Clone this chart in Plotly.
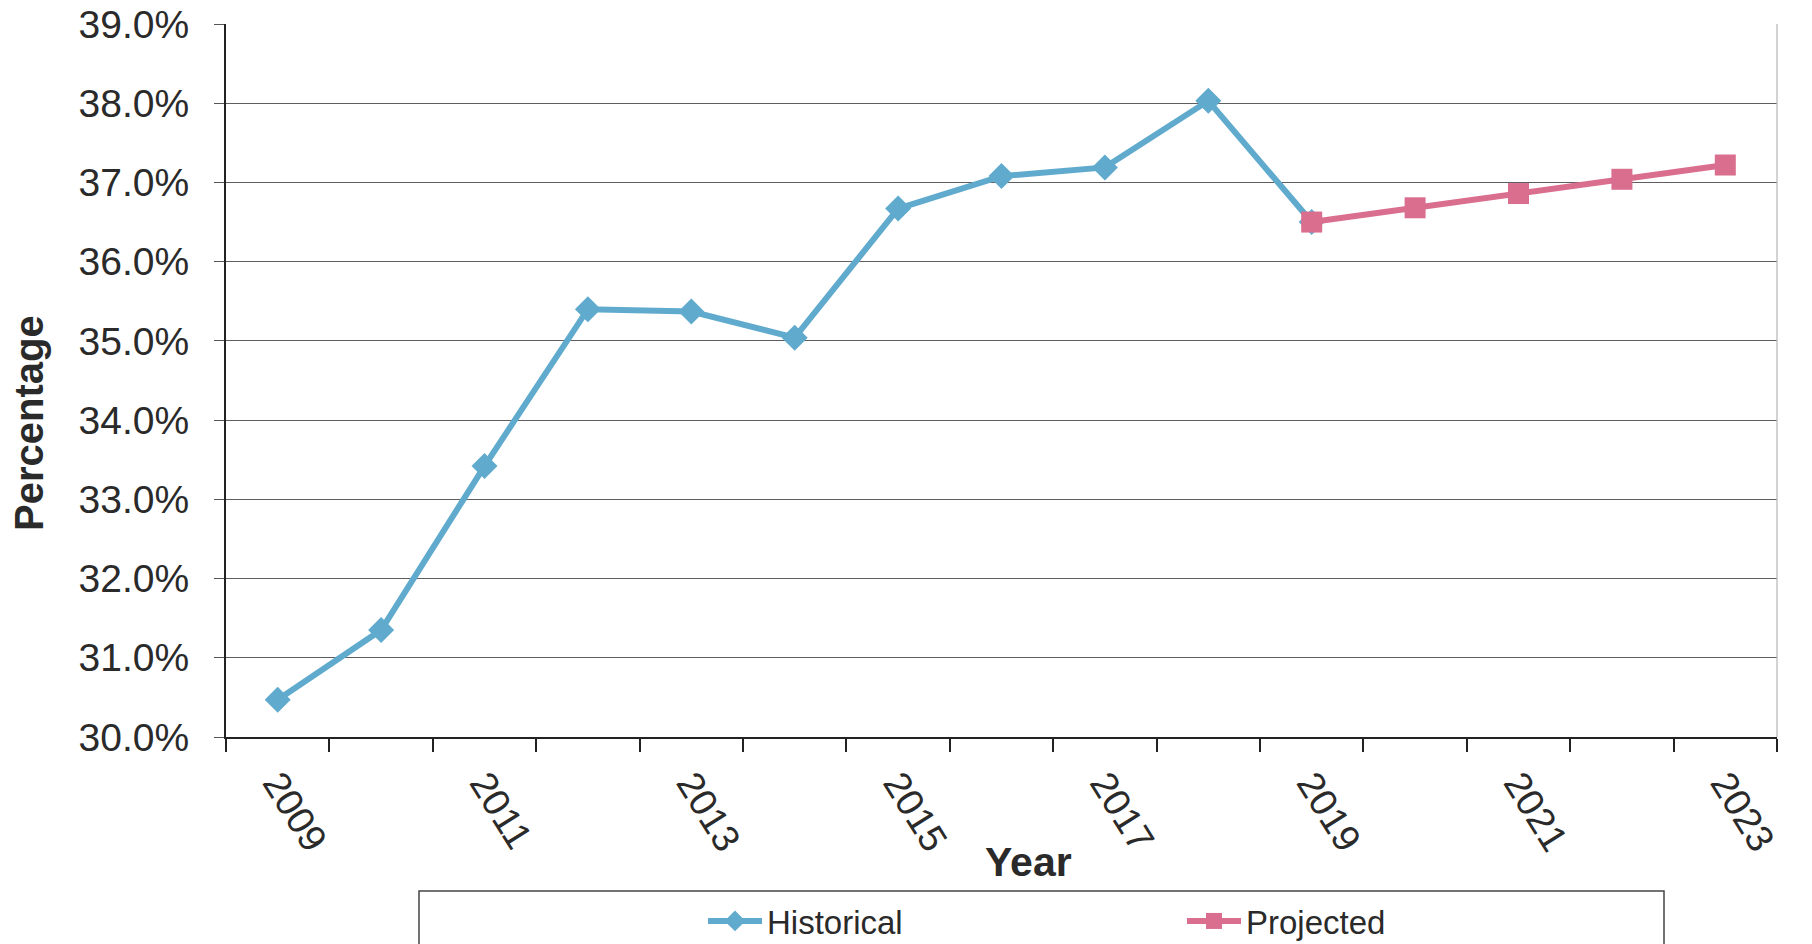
import plotly.graph_objects as go

# Share of total, historical and projected (percent)
hist_years = [2009, 2010, 2011, 2012, 2013, 2014, 2015, 2016, 2017, 2018, 2019]
hist_values = [30.47, 31.35, 33.42, 35.40, 35.37, 35.04, 36.67, 37.08, 37.19, 38.03, 36.50]

proj_years = [2019, 2020, 2021, 2022, 2023]
proj_values = [36.50, 36.68, 36.86, 37.04, 37.22]

label_years = [2009, 2011, 2013, 2015, 2017, 2019, 2021, 2023]
y_ticks = [30, 31, 32, 33, 34, 35, 36, 37, 38, 39]

BLUE = "#60ABCD"
PINK = "#DA6E8E"
FONT = "Liberation Sans, Arial, sans-serif"

W, H = 1812, 944
L, R, T, B = 226, 35, 24, 207
plot_w = W - L - R
plot_h = H - T - B


def px_x(x):
    return (x - L) / plot_w


def px_y(y):
    return (H - B - y) / plot_h


fig = go.Figure()

fig.add_trace(go.Scatter(
    x=hist_years, y=hist_values, name="Historical", mode="lines+markers",
    line=dict(color=BLUE, width=6),
    marker=dict(symbol="diamond", size=20, color=BLUE),
))
fig.add_trace(go.Scatter(
    x=proj_years, y=proj_values, name="Projected", mode="lines+markers",
    line=dict(color=PINK, width=6),
    marker=dict(symbol="square", size=21, color=PINK),
))

all_years = list(range(min(hist_years), max(proj_years) + 1))
boundaries = [y - 0.5 for y in all_years] + [all_years[-1] + 0.5]

fig.update_xaxes(
    range=[boundaries[0], boundaries[-1]],
    tickvals=label_years,
    ticktext=[str(y) for y in label_years],
    tickangle=58,
    ticks="",
    automargin=False,
    showgrid=False,
    zeroline=False,
    showline=True, linecolor="#222", linewidth=2,
    tickfont=dict(family=FONT, size=38, color="#2a2a2a"),
    ticklabelstandoff=7,
    minor=dict(tickvals=boundaries, ticks="outside", ticklen=13,
               tickcolor="#222", tickwidth=1.5, showgrid=False),
)

fig.update_yaxes(
    range=[30, 39],
    tickvals=y_ticks,
    ticktext=[f"{v:.1f}%" for v in y_ticks],
    ticks="outside", ticklen=10, tickcolor="#555", tickwidth=1,
    automargin=False,
    showgrid=True, gridcolor="#5e5e5e", gridwidth=1.2,
    zeroline=False,
    showline=True, linecolor="#222", linewidth=2,
    tickfont=dict(family=FONT, size=39, color="#2a2a2a"),
    ticklabelstandoff=17,
)

shapes = [
    # right plot border
    dict(type="line", xref="paper", yref="paper", x0=1, x1=1, y0=0, y1=1,
         line=dict(color="#b5b5b5", width=1.2)),
    # legend frame
    dict(type="rect", xref="paper", yref="paper",
         x0=px_x(419), x1=px_x(1664), y0=px_y(960), y1=px_y(891),
         line=dict(color="#444", width=1.5), fillcolor="rgba(0,0,0,0)"),
]

annotations = [
    dict(text="<b>Percentage</b>", xref="paper", yref="paper",
         x=px_x(29), y=px_y(423), textangle=-90, showarrow=False,
         xanchor="center", yanchor="middle",
         font=dict(family=FONT, size=40, color="#2a2a2a")),
    dict(text="<b>Year</b>", xref="paper", yref="paper",
         x=px_x(1028), y=px_y(862), showarrow=False,
         xanchor="center", yanchor="middle",
         font=dict(family=FONT, size=41, color="#2a2a2a")),
]

fig.update_layout(
    width=W, height=H,
    margin=dict(l=L, r=R, t=T, b=B, autoexpand=False),
    paper_bgcolor="white", plot_bgcolor="white",
    showlegend=True,
    legend=dict(
        orientation="h", x=px_x(703), y=px_y(921),
        xanchor="left", yanchor="middle",
        entrywidth=410, entrywidthmode="pixels",
        itemwidth=54,
        font=dict(family=FONT, size=33, color="#2a2a2a"),
        bgcolor="rgba(0,0,0,0)", borderwidth=0,
    ),
    shapes=shapes,
    annotations=annotations,
    hovermode=False,
)

fig.write_html("out.html")
